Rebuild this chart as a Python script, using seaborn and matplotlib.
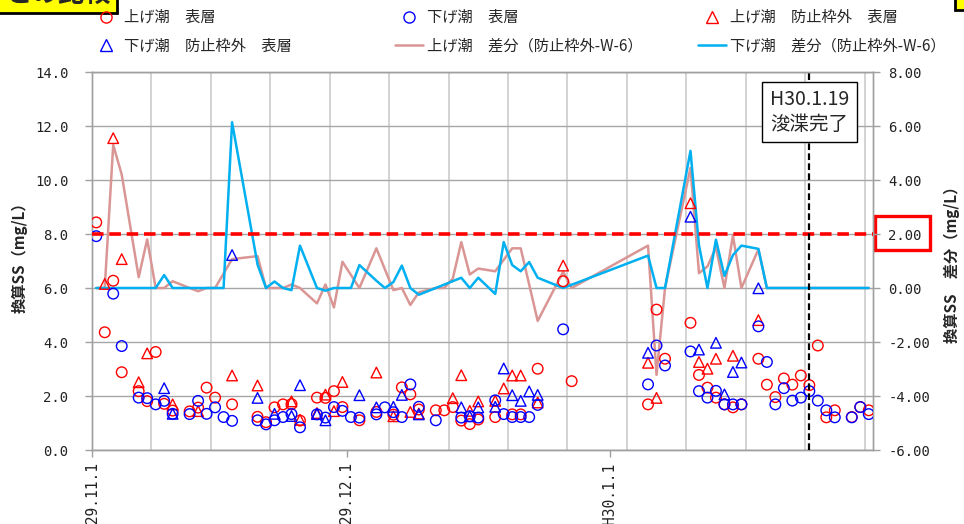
import matplotlib
matplotlib.use("Agg")
import numpy as np
import pandas as pd
import matplotlib.pyplot as plt
from matplotlib.lines import Line2D
from matplotlib.patches import Rectangle
from matplotlib.transforms import ScaledTranslation
import seaborn as sns

# ---------------- data (days counted from 2017-11-01) ----------------
base_date = "2017-11-01"

rc_day = [0,1,2,3,5,6,7,8,9,11,12,13,14,16,19,20,21,22,23,24,26,27,28,29,31,33,35,36,37,38,40,41,42,43,44,45,47,49,50,52,55,56,65,66,67,70,71,72,73,74,75,76,78,79,80,81,82,83,84,85,86,87,89,90,91]
rc_val = [8.43,4.36,6.27,2.88,2.18,1.81,3.63,1.71,1.46,1.43,1.57,2.31,1.94,1.69,1.23,1.03,1.58,1.69,1.70,1.09,1.94,1.93,2.18,1.59,1.10,1.41,1.31,2.32,2.06,1.50,1.47,1.47,1.59,1.09,0.96,1.13,1.22,1.32,1.32,3.01,6.25,2.55,1.69,5.20,3.38,4.71,2.78,2.31,1.94,1.69,1.58,1.69,3.38,2.42,1.96,2.65,2.42,2.76,2.40,3.87,1.21,1.47,1.22,1.59,1.47]

bc_day = [0,2,3,5,6,7,8,9,11,12,13,14,15,16,19,20,21,22,23,24,26,27,28,29,30,31,33,34,35,36,37,38,40,43,44,45,47,48,49,50,51,52,55,65,66,67,70,71,72,73,74,75,76,78,79,80,81,82,83,84,85,86,87,89,90,91]
bc_val = [7.92,5.79,3.85,1.94,1.92,1.69,1.82,1.34,1.33,1.82,1.34,1.58,1.22,1.08,1.10,0.95,1.10,1.22,1.33,0.84,1.32,1.20,1.59,1.45,1.22,1.20,1.32,1.58,1.40,1.22,2.43,1.60,1.10,1.20,1.25,1.20,1.84,1.33,1.22,1.22,1.22,1.67,4.47,2.43,3.87,3.13,3.65,2.18,1.94,2.19,1.69,1.69,1.69,4.58,3.26,1.69,2.29,1.83,1.94,2.18,1.83,1.47,1.21,1.21,1.59,1.33]

rt_day = [1,2,3,5,6,9,12,16,19,23,24,26,27,28,29,33,35,37,38,42,43,44,45,47,48,49,50,52,55,65,66,70,71,72,73,75,78]
rt_val = [6.15,11.55,7.07,2.51,3.58,1.69,1.44,2.76,2.39,1.80,1.12,1.37,2.05,1.44,2.52,2.87,1.25,1.41,1.35,1.92,2.77,1.45,1.80,1.82,2.28,2.76,2.76,1.76,6.83,3.23,1.93,9.14,3.26,3.01,3.38,3.49,4.81]

bt_day = [8,9,16,19,21,23,24,26,27,31,33,35,36,38,43,44,45,47,48,49,50,51,52,65,70,71,73,74,75,76,78]
bt_val = [2.29,1.34,7.22,1.93,1.34,1.26,2.40,1.33,1.10,2.03,1.58,1.60,2.04,1.32,1.58,1.25,1.58,1.60,3.02,2.03,1.82,2.17,2.04,3.60,8.64,3.72,3.97,2.06,2.89,3.24,5.99]

up_diff_day = rc_day
up_diff_val = [0,0,5.30,4.20,0.40,1.80,0,0,0.25,0,-0.12,0,0,1.07,1.18,0,0,0,0.13,0,-0.57,0.13,-0.72,0.97,0,1.47,-0.08,0,-0.63,-0.16,0,0,0.35,1.70,0.50,0.72,0.62,1.47,1.47,-1.22,0.60,0,1.57,-3.22,0,4.45,0.55,0.80,1.50,0,1.95,0,1.43,0,0,0,0,0,0,0,0,0,0,0,0]

dn_diff_day = bc_day
dn_diff_val = [0,0,0,0,0,0,0.48,0,0,0,0,0,0,6.14,0.87,0,0.24,0,-0.08,1.57,0,-0.10,0,0,0,0.85,0.27,0,0.22,0.83,0,-0.25,0,0.38,0,0.38,-0.22,1.70,0.85,0.62,0.96,0.38,0,1.20,0,0,5.08,1.58,0,1.79,0.45,1.22,1.57,1.45,0,0,0,0,0,0,0,0,0,0,0,0]

labels = ["上げ潮　表層", "下げ潮　表層", "上げ潮　防止枠外　表層",
          "下げ潮　防止枠外　表層", "上げ潮　差分（防止枠外-W-6）", "下げ潮　差分（防止枠外-W-6）"]
xtick_dates = ["2017-11-01", "2017-12-01", "2018-01-01"]
xtick_labels = ["H29.11.1", "H29.12.1", "H30.1.1"]
threshold = 8.0
dredge_date = "2018-01-24"
dredge_text = "H30.1.19\n浚渫完了"
ylabel_left = "換算SS（mg/L）"
ylabel_right = "換算SS　差分（mg/L）"
title_text = "との比較"

# ---------------- helpers ----------------
base = pd.Timestamp(base_date)
half = pd.Timedelta(hours=12)  # points sit in the middle of each day slot


def to_x(days):
    return base + pd.to_timedelta(np.asarray(days), unit="D") + half


sns.set_theme(style="white")
plt.rcParams['font.family'] = ['Noto Sans CJK JP', 'DejaVu Sans']
plt.rcParams['axes.unicode_minus'] = False

W, H = 964, 524
fig = plt.figure(figsize=(W / 100, H / 100), dpi=100)
ax = fig.add_axes([92 / W, 1 - 450 / H, 781 / W, 378 / H])
ax2 = ax.twinx()
ax.set_zorder(3)
ax2.set_zorder(2)
ax.patch.set_visible(False)
ax2.patch.set_visible(True)
ax2.patch.set_facecolor("white")

RED = "#FF0000"
BLUE = "#0000FF"
BROWN = "#D99694"
CYAN = "#00B0F0"

# grid on the lower axes
week_lines = pd.date_range("2017-11-01", "2018-02-01", freq="7D")
for d in week_lines:
    ax2.axvline(d, color="#cccccc", lw=1.2, zorder=0)
ax2.set_ylim(-6, 8)
ax2.yaxis.grid(True, color="#a6a6a6", lw=1.0, zorder=0)
ax2.set_axisbelow(True)

# difference lines (right axis)
df_up = pd.DataFrame({"x": to_x(up_diff_day), "y": up_diff_val})
df_dn = pd.DataFrame({"x": to_x(dn_diff_day), "y": dn_diff_val})
sns.lineplot(data=df_up, x="x", y="y", ax=ax2, color=BROWN, lw=1.8,
             estimator=None, sort=False, legend=False, zorder=3)
sns.lineplot(data=df_dn, x="x", y="y", ax=ax2, color=CYAN, lw=1.8,
             estimator=None, sort=False, legend=False, zorder=4)

# markers (left axis)
msize = 58
sns.scatterplot(x=to_x(rc_day), y=rc_val, ax=ax, marker="o", s=msize,
                facecolor="none", edgecolor=RED, linewidth=1.0, zorder=5)
sns.scatterplot(x=to_x(bc_day), y=bc_val, ax=ax, marker="o", s=msize,
                facecolor="none", edgecolor=BLUE, linewidth=1.0, zorder=6)
sns.scatterplot(x=to_x(rt_day), y=rt_val, ax=ax, marker="^", s=msize,
                facecolor="none", edgecolor=RED, linewidth=1.0, zorder=5)
sns.scatterplot(x=to_x(bt_day), y=bt_val, ax=ax, marker="^", s=msize,
                facecolor="none", edgecolor=BLUE, linewidth=1.0, zorder=6)

# threshold and dredging line
ax.axhline(threshold, color=RED, lw=2.6, ls=(0, (3.2, 1.6)), zorder=7)
vx = pd.Timestamp(dredge_date) + half
ax.axvline(vx, color="black", lw=1.6, ls=(0, (3, 1.5)), zorder=7)
ax.text(vx, 12.52, dredge_text, ha="center", va="center", fontsize=14,
        linespacing=1.2, zorder=8,
        bbox=dict(boxstyle="square,pad=0.4", fc="white", ec="black", lw=1.0))

# axes limits / ticks
ax.set_xlim(pd.Timestamp("2017-11-01"), pd.Timestamp("2018-02-01"))
ax.set_ylim(0, 14)
yt = np.arange(0, 14.01, 2)
ax.set_yticks(yt, [f"{v:.1f}" for v in yt], fontfamily="DejaVu Sans Mono", fontsize=10)
yt2 = np.arange(-6, 8.01, 2)
ax2.set_yticks(yt2, [f"{v:.2f}" for v in yt2], fontfamily="DejaVu Sans Mono", fontsize=10)
ax.set_xticks(pd.to_datetime(xtick_dates), xtick_labels, rotation=90,
              fontfamily="DejaVu Sans Mono", fontsize=10.5, va="top")
for lbl in ax.get_xticklabels():
    lbl.set_transform(lbl.get_transform() + ScaledTranslation(6 / 100, 0, fig.dpi_scale_trans))

ax.tick_params(axis="y", length=5, width=1, color="#a0a0a0", pad=12, labelcolor="#222222")
ax2.tick_params(axis="y", length=5, width=1, color="#a0a0a0", pad=6, labelcolor="#222222")
ax.tick_params(axis="x", length=5, width=1, color="#a0a0a0", pad=4, labelcolor="#222222", bottom=True)
ax.set_xlabel("")
for a in (ax, ax2):
    for s in a.spines.values():
        s.set_color("#a0a0a0")
        s.set_linewidth(1.0)

ax.set_ylabel(ylabel_left, fontsize=11, fontweight="bold")
ax.yaxis.set_label_coords(-0.083, 0.52)
ax2.set_ylabel(ylabel_right, fontsize=11, fontweight="bold", rotation=90)
ax2.yaxis.set_label_coords(1.091, 0.5)

# red frame around the 2.00 label
fig.add_artist(Rectangle((875 / W, 1 - 250 / H), 55 / W, 34 / H, transform=fig.transFigure,
                         fill=False, ec=RED, lw=2.4))

# legends (three columns)
h_rc = Line2D([], [], ls="none", marker="o", ms=8, mfc="none", mec=RED, mew=1.0)
h_bc = Line2D([], [], ls="none", marker="o", ms=8, mfc="none", mec=BLUE, mew=1.0)
h_rt = Line2D([], [], ls="none", marker="^", ms=8, mfc="none", mec=RED, mew=1.0)
h_bt = Line2D([], [], ls="none", marker="^", ms=8, mfc="none", mec=BLUE, mew=1.0)
h_ud = Line2D([], [], color=BROWN, lw=1.8)
h_dd = Line2D([], [], color=CYAN, lw=1.8)
cols = [([h_rc, h_bt], [labels[0], labels[3]], 92),
        ([h_bc, h_ud], [labels[1], labels[4]], 395),
        ([h_rt, h_dd], [labels[2], labels[5]], 698)]
for hs, ls_, xpx in cols:
    fig.legend(hs, ls_, loc="upper left", bbox_to_anchor=(xpx / W, 1 - 9 / H),
               frameon=False, fontsize=11, handlelength=1.8, handletextpad=0.3,
               borderpad=0, borderaxespad=0, labelspacing=0.75)

# clipped title boxes at the top edge
fig.add_artist(Rectangle((-5 / W, 1 - 12.5 / H), 122 / W, 40 / H, transform=fig.transFigure,
                         fc="#FFFF00", ec="black", lw=2))
fig.text(58 / W, 1 + 6 / H, title_text, ha="center", va="center", fontsize=19,
         fontweight="bold")
fig.add_artist(Rectangle((955 / W, 1 - 10 / H), 20 / W, 30 / H, transform=fig.transFigure,
                         fc="#FFFF00", ec="black", lw=2))

fig.savefig("out.png", dpi=100, facecolor="white")
